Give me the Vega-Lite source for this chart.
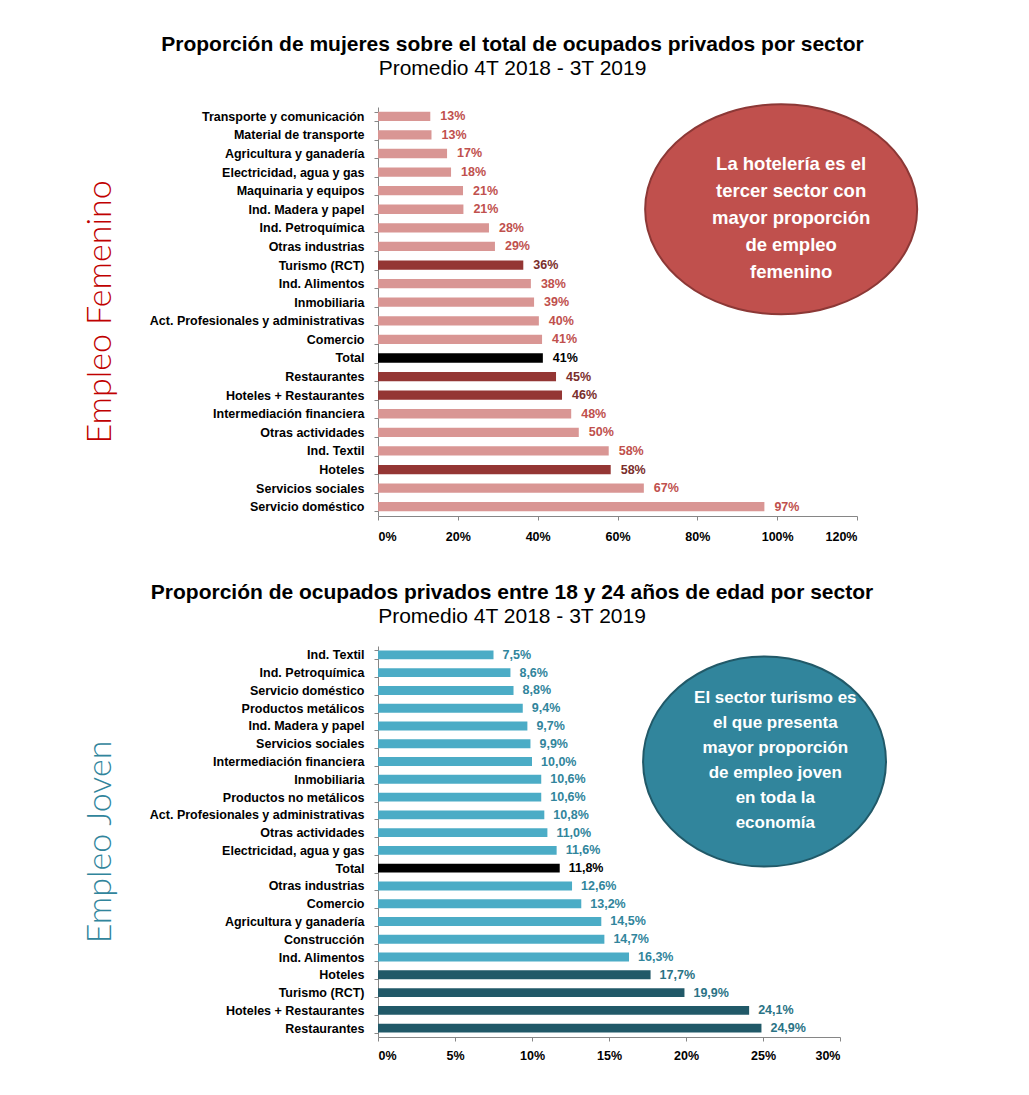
{
  "$schema": "https://vega.github.io/schema/vega-lite/v6.json",
  "background": "white",
  "padding": {"left": 83, "top": 33, "right": 10, "bottom": 10},
  "spacing": 38,
  "config": {
    "locale": {"number": {"decimal": ",", "thousands": ".", "grouping": [3], "currency": ["", " €"]}},
    "view": {"stroke": null},
    "font": "Liberation Sans",
    "axis": {"labelFont": "Liberation Sans", "labelFontWeight": "bold", "labelFontSize": 12.5, "labelColor": "black", "labelLimit": 400, "domainColor": "#868686", "tickColor": "#868686", "grid": false, "tickSize": 4},
    "title": {"font": "Liberation Sans", "fontSize": 21, "fontWeight": "bold", "color": "black", "subtitleFont": "Liberation Sans", "subtitleFontSize": 21, "subtitleColor": "black", "subtitlePadding": 3, "offset": 21.5, "anchor": "middle", "frame": "group"}
  },
  "datasets": {
    "femenino": [
      {"sector": "Transporte y comunicación", "valor": 0.131, "grupo": "resto"},
      {"sector": "Material de transporte", "valor": 0.134, "grupo": "resto"},
      {"sector": "Agricultura y ganadería", "valor": 0.173, "grupo": "resto"},
      {"sector": "Electricidad, agua y gas", "valor": 0.183, "grupo": "resto"},
      {"sector": "Maquinaria y equipos", "valor": 0.213, "grupo": "resto"},
      {"sector": "Ind. Madera y papel", "valor": 0.214, "grupo": "resto"},
      {"sector": "Ind. Petroquímica", "valor": 0.278, "grupo": "resto"},
      {"sector": "Otras industrias", "valor": 0.293, "grupo": "resto"},
      {"sector": "Turismo (RCT)", "valor": 0.364, "grupo": "turismo"},
      {"sector": "Ind. Alimentos", "valor": 0.383, "grupo": "resto"},
      {"sector": "Inmobiliaria", "valor": 0.391, "grupo": "resto"},
      {"sector": "Act. Profesionales y administrativas", "valor": 0.403, "grupo": "resto"},
      {"sector": "Comercio", "valor": 0.411, "grupo": "resto"},
      {"sector": "Total", "valor": 0.413, "grupo": "total"},
      {"sector": "Restaurantes", "valor": 0.446, "grupo": "turismo"},
      {"sector": "Hoteles + Restaurantes", "valor": 0.461, "grupo": "turismo"},
      {"sector": "Intermediación financiera", "valor": 0.484, "grupo": "resto"},
      {"sector": "Otras actividades", "valor": 0.503, "grupo": "resto"},
      {"sector": "Ind. Textil", "valor": 0.578, "grupo": "resto"},
      {"sector": "Hoteles", "valor": 0.583, "grupo": "turismo"},
      {"sector": "Servicios sociales", "valor": 0.666, "grupo": "resto"},
      {"sector": "Servicio doméstico", "valor": 0.968, "grupo": "resto"}
    ],
    "joven": [
      {"sector": "Ind. Textil", "valor": 0.075, "grupo": "resto"},
      {"sector": "Ind. Petroquímica", "valor": 0.086, "grupo": "resto"},
      {"sector": "Servicio doméstico", "valor": 0.088, "grupo": "resto"},
      {"sector": "Productos metálicos", "valor": 0.094, "grupo": "resto"},
      {"sector": "Ind. Madera y papel", "valor": 0.097, "grupo": "resto"},
      {"sector": "Servicios sociales", "valor": 0.099, "grupo": "resto"},
      {"sector": "Intermediación financiera", "valor": 0.100, "grupo": "resto"},
      {"sector": "Inmobiliaria", "valor": 0.106, "grupo": "resto"},
      {"sector": "Productos no metálicos", "valor": 0.106, "grupo": "resto"},
      {"sector": "Act. Profesionales y administrativas", "valor": 0.108, "grupo": "resto"},
      {"sector": "Otras actividades", "valor": 0.110, "grupo": "resto"},
      {"sector": "Electricidad, agua y gas", "valor": 0.116, "grupo": "resto"},
      {"sector": "Total", "valor": 0.118, "grupo": "total"},
      {"sector": "Otras industrias", "valor": 0.126, "grupo": "resto"},
      {"sector": "Comercio", "valor": 0.132, "grupo": "resto"},
      {"sector": "Agricultura y ganadería", "valor": 0.145, "grupo": "resto"},
      {"sector": "Construcción", "valor": 0.147, "grupo": "resto"},
      {"sector": "Ind. Alimentos", "valor": 0.163, "grupo": "resto"},
      {"sector": "Hoteles", "valor": 0.177, "grupo": "turismo"},
      {"sector": "Turismo (RCT)", "valor": 0.199, "grupo": "turismo"},
      {"sector": "Hoteles + Restaurantes", "valor": 0.241, "grupo": "turismo"},
      {"sector": "Restaurantes", "valor": 0.249, "grupo": "turismo"}
    ],
    "notas": [
      {"panel": "femenino", "texto": ["La hotelería es el", "tercer sector con", "mayor proporción", "de empleo", "femenino"]},
      {"panel": "joven", "texto": ["El sector turismo es", "el que presenta", "mayor proporción", "de empleo joven", "en toda la", "economía"]}
    ]
  },
  "vconcat": [
    {
      "title": {"text": "Proporción de mujeres sobre el total de ocupados privados por sector", "subtitle": "Promedio 4T 2018 - 3T 2019", "dx": -105},
      "width": 479,
      "height": 409,
      "layer": [
        {
          "data": {"name": "femenino"},
          "mark": {"type": "bar"},
          "encoding": {
            "y": {"field": "sector", "type": "nominal", "sort": null, "scale": {"paddingInner": 0.5, "paddingOuter": 0.25},
              "axis": {"title": "Empleo Femenino", "titleColor": "#C00000", "titleFont": "Lato", "titleFontSize": 34, "titleFontWeight": 300, "titlePadding": 61, "tickBand": "extent", "labelPadding": 10}},
            "x": {"field": "valor", "type": "quantitative", "scale": {"domain": [0, 1.2]},
              "axis": {"title": null, "format": ".0%", "values": [0, 0.2, 0.4, 0.6, 0.8, 1.0, 1.2], "labelPadding": 10}},
            "color": {"field": "grupo", "type": "nominal", "scale": {"domain": ["resto", "turismo", "total"], "range": ["#D99694", "#943634", "#000000"]}, "legend": null}
          }
        },
        {
          "data": {"name": "femenino"},
          "mark": {"type": "text", "align": "left", "baseline": "middle", "dx": 10, "fontWeight": "bold", "fontSize": 12.5},
          "encoding": {
            "y": {"field": "sector", "type": "nominal", "sort": null},
            "x": {"field": "valor", "type": "quantitative"},
            "text": {"field": "valor", "type": "quantitative", "format": ".0%"},
            "color": {"field": "grupo", "type": "nominal", "scale": {"domain": ["resto", "turismo", "total"], "range": ["#C0504D", "#7A2E2C", "#000000"]}, "legend": null}
          }
        },
        {
          "data": {"name": "notas"},
          "transform": [{"filter": "datum.panel === 'femenino'"}],
          "mark": {"type": "point", "shape": "M -1 0 C -1 -0.426 -0.552 -0.772 0 -0.772 C 0.552 -0.772 1 -0.426 1 0 C 1 0.426 0.552 0.772 0 0.772 C -0.552 0.772 -1 0.426 -1 0 Z", "size": 74000, "filled": true, "fill": "#C0504D", "stroke": "#8C3836", "strokeWidth": 2, "opacity": 1, "dy": 4},
          "encoding": {"x": {"datum": 1.01}, "y": {"datum": "Ind. Madera y papel"}}
        },
        {
          "data": {"name": "notas"},
          "transform": [{"filter": "datum.panel === 'femenino'"}],
          "mark": {"type": "text", "align": "center", "baseline": "middle", "font": "Liberation Sans", "fontSize": 18.5, "fontWeight": "bold", "color": "white", "lineHeight": 27, "dy": -45},
          "encoding": {"x": {"datum": 1.035}, "y": {"datum": "Ind. Madera y papel"}, "text": {"field": "texto"}}
        }
      ],
      "resolve": {"scale": {"color": "independent"}}
    },
    {
      "title": {"text": "Proporción de ocupados privados entre 18 y 24 años de edad por sector", "subtitle": "Promedio 4T 2018 - 3T 2019", "dx": -97, "offset": 13.5},
      "width": 462,
      "height": 391,
      "layer": [
        {
          "data": {"name": "joven"},
          "mark": {"type": "bar"},
          "encoding": {
            "y": {"field": "sector", "type": "nominal", "sort": null, "scale": {"paddingInner": 0.5, "paddingOuter": 0.25},
              "axis": {"title": "Empleo Joven", "titleColor": "#31859C", "titleFont": "Lato", "titleFontSize": 34, "titleFontWeight": 300, "titlePadding": 61, "tickBand": "extent", "labelPadding": 10}},
            "x": {"field": "valor", "type": "quantitative", "scale": {"domain": [0, 0.3]},
              "axis": {"title": null, "format": ".0%", "values": [0, 0.05, 0.1, 0.15, 0.2, 0.25, 0.3], "labelPadding": 8}},
            "color": {"field": "grupo", "type": "nominal", "scale": {"domain": ["resto", "turismo", "total"], "range": ["#4BACC6", "#215968", "#000000"]}, "legend": null}
          }
        },
        {
          "data": {"name": "joven"},
          "mark": {"type": "text", "align": "left", "baseline": "middle", "dx": 9, "fontWeight": "bold", "fontSize": 12.5},
          "encoding": {
            "y": {"field": "sector", "type": "nominal", "sort": null},
            "x": {"field": "valor", "type": "quantitative"},
            "text": {"field": "valor", "type": "quantitative", "format": ".1%"},
            "color": {"field": "grupo", "type": "nominal", "scale": {"domain": ["resto", "turismo", "total"], "range": ["#31859C", "#2A7385", "#000000"]}, "legend": null}
          }
        },
        {
          "data": {"name": "notas"},
          "transform": [{"filter": "datum.panel === 'joven'"}],
          "mark": {"type": "point", "shape": "M -1 0 C -1 -0.478 -0.552 -0.865 0 -0.865 C 0.552 -0.865 1 -0.478 1 0 C 1 0.478 0.552 0.865 0 0.865 C -0.552 0.865 -1 0.478 -1 0 Z", "size": 59000, "filled": true, "fill": "#31859C", "stroke": "#215968", "strokeWidth": 2, "opacity": 1, "dy": -7},
          "encoding": {"x": {"datum": 0.251}, "y": {"datum": "Intermediación financiera"}}
        },
        {
          "data": {"name": "notas"},
          "transform": [{"filter": "datum.panel === 'joven'"}],
          "mark": {"type": "text", "align": "center", "baseline": "middle", "font": "Liberation Sans", "fontSize": 17, "fontWeight": "bold", "color": "white", "lineHeight": 25, "dy": -64},
          "encoding": {"x": {"datum": 0.258}, "y": {"datum": "Intermediación financiera"}, "text": {"field": "texto"}}
        }
      ],
      "resolve": {"scale": {"color": "independent"}}
    }
  ]
}
